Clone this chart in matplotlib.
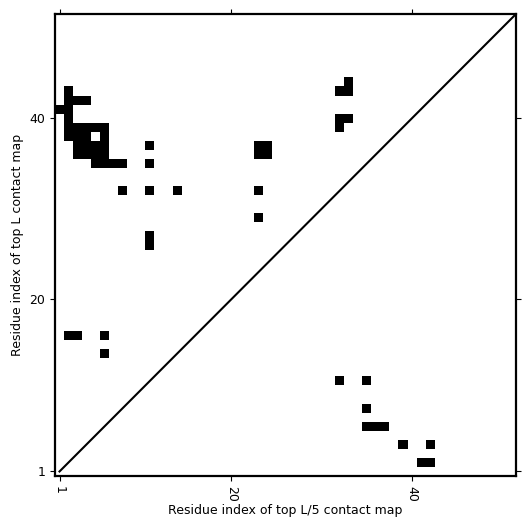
import numpy as np
import matplotlib
matplotlib.use("Agg")
import matplotlib.pyplot as plt

L = 51
# top L contacts (upper triangle): (i, j) residue pairs
top_L_i = [2, 2, 3, 4, 1, 2, 2, 2, 3, 4, 5, 6, 2, 3, 4, 6, 3, 4, 5, 6, 11,
           3, 4, 5, 6, 5, 6, 7, 8, 11, 8, 11, 14, 11, 11, 23, 23, 23, 24, 23, 24,
           33, 32, 33, 32, 33, 32, 2, 3, 6, 6]
top_L_j = [43, 42, 42, 42, 41, 41, 40, 39, 39, 39, 39, 39, 38, 38, 38, 38, 37, 37, 37, 37, 37,
           36, 36, 36, 36, 35, 35, 35, 35, 35, 32, 32, 32, 26, 27, 29, 32, 36, 36, 37, 37,
           44, 43, 43, 40, 40, 39, 16, 16, 16, 14]
# top L/5 contacts (lower triangle)
top_L5_i = [32, 35, 35, 35, 36, 37, 39, 42, 41, 42]
top_L5_j = [11, 11, 8, 6, 6, 6, 4, 4, 2, 2]

tick_vals = [1, 20, 40]

mat = np.zeros((L, L))
for i, j in zip(top_L_i, top_L_j):
    mat[j - 1, i - 1] = 1
for i, j in zip(top_L5_i, top_L5_j):
    mat[j - 1, i - 1] = 1

fig = plt.figure(figsize=(5.31, 5.31), dpi=100)
ax = fig.add_axes([55/531, 1 - 476/531, (516 - 55)/531, (476 - 14)/531])
ax.imshow(mat, cmap="Greys", origin="lower", interpolation="nearest",
          extent=(0.5, L + 0.5, 0.5, L + 0.5), vmin=0, vmax=1, aspect="auto")
ax.plot([1, L + 1], [1, L + 1], color="black", linewidth=1.5)
ax.set_xlim(0.5, L + 0.5)
ax.set_ylim(0.5, L + 0.5)
ax.set_xticks(tick_vals)
ax.set_yticks(tick_vals)
ax.set_xticklabels([str(v) for v in tick_vals], rotation=-90)
ax.tick_params(top=True, right=True, direction="out", labelsize=9)
for s in ax.spines.values():
    s.set_linewidth(1.6)
ax.set_xlabel("Residue index of top L/5 contact map", fontsize=9, labelpad=2)
ax.set_ylabel("Residue index of top L contact map", fontsize=9)
fig.savefig("out.png", dpi=100)
